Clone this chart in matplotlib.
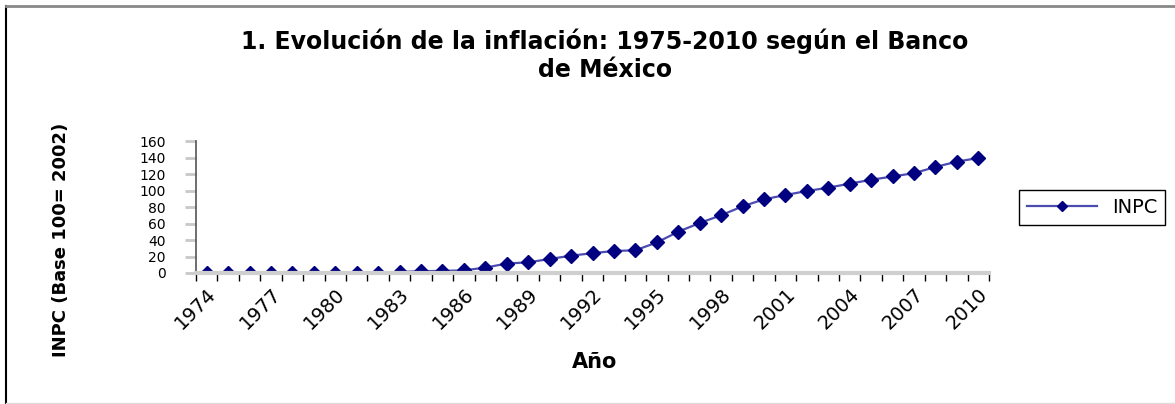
import matplotlib
matplotlib.use("Agg")
import matplotlib.pyplot as plt
from matplotlib.lines import Line2D

# INPC values (Base 100 = 2002)
years = list(range(1974, 2011))
inpc = [0.1, 0.1, 0.1, 0.2, 0.2, 0.3, 0.3, 0.4, 0.6, 1.2, 2.2, 2.6, 3.2, 6.5, 11.5,
        12.9, 17.0, 21.0, 24.0, 26.7, 27.5, 37.0, 50.0, 60.6, 70.0, 80.8, 89.3,
        94.5, 99.4, 103.4, 108.3, 113.0, 117.0, 121.0, 128.5, 135.0, 139.4]
label_years = list(range(1974, 2011, 3))
y_ticks = list(range(0, 161, 20))

title = "1. Evolución de la inflación: 1975-2010 según el Banco\nde México"

fig = plt.figure(figsize=(11.75, 4.04), dpi=100)
ax = fig.add_axes([196/1175, 1-273/404, 793/1175, 132/404])

ax.plot(years, inpc, color="#4b4bb0", lw=1.6, marker="D", markersize=7,
        markerfacecolor="#000080", markeredgecolor="#000080", label="INPC")

ax.set_xlim(1973.5, 2010.5)
ax.set_ylim(0, 160)

# category style axis: ticks between years, labels every 3 years
ax.set_xticks(label_years)
ax.set_xticklabels([str(y) for y in label_years], rotation=45, ha="right",
                   rotation_mode="anchor", fontsize=14, family="DejaVu Sans")
ax.set_xticks([y - 0.5 for y in years] + [2010.5], minor=True)
ax.tick_params(axis="x", which="major", length=0, pad=8)
ax.tick_params(axis="x", which="minor", length=6, width=1, color="black", direction="out")

ax.set_yticks(y_ticks)
ax.set_yticklabels([str(v) for v in y_ticks], fontsize=10, family="DejaVu Sans")
ax.tick_params(axis="y", length=8, width=2, color="#c8c8c8", pad=14)

for side in ["top", "right"]:
    ax.spines[side].set_visible(False)
ax.spines["left"].set_color("#555555")
ax.spines["left"].set_linewidth(1.2)
ax.spines["bottom"].set_color("#cfcfcf")
ax.spines["bottom"].set_linewidth(3)

fig.text(0.515, 1-29/404, title, ha="center", va="top", fontsize=17,
         fontweight="bold", family="DejaVu Sans", linespacing=1.2)
fig.text(61/1175, 1-240/404, "INPC (Base 100= 2002)", rotation=90, ha="center",
         va="center", fontsize=13, fontweight="bold", family="DejaVu Sans")
fig.text(595/1175, 1-362/404, "Año", ha="center", va="center", fontsize=15,
         fontweight="bold", family="DejaVu Sans")

leg = fig.legend(loc="center", bbox_to_anchor=(0.9294, 0.486), fontsize=14,
                 fancybox=False, edgecolor="black", framealpha=1,
                 handlelength=3.6, borderpad=0.4, markerscale=0.8)
leg.get_frame().set_linewidth(1)

# outer frame of the chart area
fig.add_artist(Line2D([6/1175, 6/1175], [0, 1-6/404], transform=fig.transFigure,
                      color="black", lw=1.5))
fig.add_artist(Line2D([6/1175, 1], [1-6/404, 1-6/404], transform=fig.transFigure,
                      color="#888888", lw=2))
fig.add_artist(Line2D([6/1175, 1], [1/404, 1/404], transform=fig.transFigure,
                      color="#dddddd", lw=1))

fig.savefig("out.png", dpi=100)
